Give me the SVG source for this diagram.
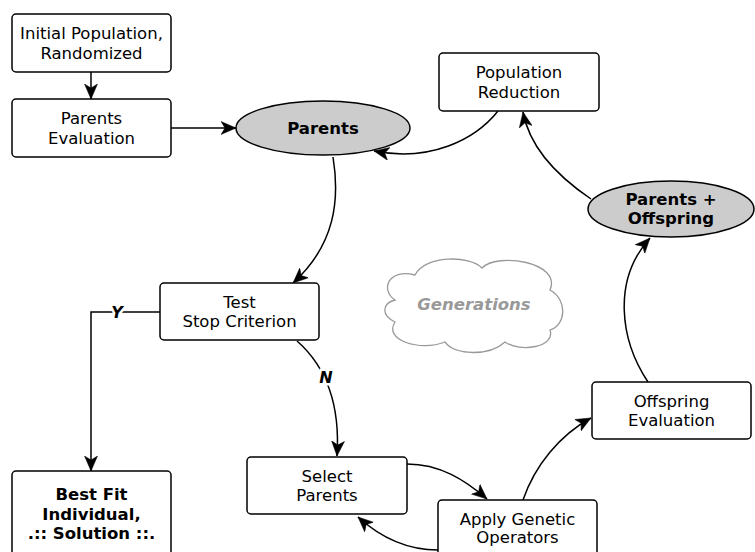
<svg xmlns="http://www.w3.org/2000/svg" width="755" height="552" viewBox="0 0 755 552">
<style>
.box{fill:#fff;stroke:#000;stroke-width:1.5}
.ell{fill:#cccccc;stroke:#000;stroke-width:1.5}
.t{font-family:"DejaVu Sans",sans-serif;font-size:16.5px;text-anchor:middle;fill:#000}
.b{font-weight:bold}
.c{fill:none;stroke:#000;stroke-width:1.5;marker-end:url(#ah)}
.lbl{font-family:"DejaVu Sans",sans-serif;font-size:16px;font-weight:bold;font-style:italic;text-anchor:middle;fill:#000;stroke:#fff;stroke-width:5;paint-order:stroke}
</style>
<defs>
<marker id="ah" markerUnits="userSpaceOnUse" markerWidth="18" markerHeight="16" refX="15" refY="7" orient="auto" viewBox="0 0 18 14">
<path d="M15,7 L0,0.5 L4,7 L0,13.5 Z" fill="#000" stroke="#000" stroke-width="0.5" stroke-linejoin="round"/>
</marker>
</defs>
<rect width="755" height="552" fill="#fff"/>
<g id="cloud">
<path d="M395,300 C380,290 388,268 415,275 C425,255 470,255 482,268 C497,252 562,262 550,290 C568,300 566,325 550,330 C556,347 520,353 505,342 C490,356 455,356 445,342 C420,352 383,340 395,322 C380,315 383,303 395,300 Z" fill="#fff" stroke="#999" stroke-width="1.3"/>
<text x="474" y="310" class="t b" style="font-style:italic;fill:#999">Generations</text>
</g>
<g id="connectors">
<path class="c" d="M91,72 L91,99"/>
<path class="c" d="M171,128 L236,128"/>
<path class="c" d="M333,157 C340,200 335,245 293,283"/>
<path class="c" d="M297,341 C330,370 340,410 337,456"/>
<path class="c" d="M160,312 L91,312 L91,471"/>
<path class="c" d="M407,464 C440,464 465,480 487,499"/>
<path class="c" d="M438,550 C405,550 380,537 358,517"/>
<path class="c" d="M523,500 C535,465 560,435 591,418"/>
<path class="c" d="M648,382 C620,340 612,280 650,238"/>
<path class="c" d="M591,199 C560,178 530,150 523,112"/>
<path class="c" d="M498,111 C475,140 430,162 374,151"/>
<text x="117" y="318" class="lbl">Y</text>
<text x="326" y="383" class="lbl">N</text>
</g>
<g id="initial">
<rect class="box" x="12" y="14" width="159" height="58" rx="4"/>
<text class="t" x="91.5" y="39">Initial Population,</text>
<text class="t" x="91.5" y="59">Randomized</text>
</g>
<g id="parents-eval">
<rect class="box" x="12" y="99" width="159" height="58" rx="4"/>
<text class="t" x="91.5" y="124">Parents</text>
<text class="t" x="91.5" y="144">Evaluation</text>
</g>
<g id="parents">
<ellipse class="ell" cx="323" cy="128" rx="87" ry="27"/>
<text class="t b" x="323" y="134">Parents</text>
</g>
<g id="pop-reduction">
<rect class="box" x="439" y="53" width="160" height="58" rx="4"/>
<text class="t" x="519" y="78">Population</text>
<text class="t" x="519" y="98">Reduction</text>
</g>
<g id="parents-offspring">
<ellipse class="ell" cx="671" cy="209" rx="83" ry="28"/>
<text class="t b" x="671" y="205">Parents +</text>
<text class="t b" x="671" y="224">Offspring</text>
</g>
<g id="test-stop">
<rect class="box" x="160" y="283" width="159" height="57" rx="4"/>
<text class="t" x="239.5" y="308">Test</text>
<text class="t" x="239.5" y="327">Stop Criterion</text>
</g>
<g id="best-fit">
<rect class="box" x="12" y="471" width="159" height="100" rx="4"/>
<text class="t b" x="91.5" y="500">Best Fit</text>
<text class="t b" x="91.5" y="520">Individual,</text>
<text class="t b" x="91.5" y="539">.:: Solution ::.</text>
</g>
<g id="select-parents">
<rect class="box" x="247" y="457" width="160" height="57" rx="4"/>
<text class="t" x="327" y="482">Select</text>
<text class="t" x="327" y="501">Parents</text>
</g>
<g id="apply-genetic">
<rect class="box" x="438" y="500" width="159" height="70" rx="4"/>
<text class="t" x="517.5" y="525">Apply Genetic</text>
<text class="t" x="517.5" y="543">Operators</text>
</g>
<g id="offspring-eval">
<rect class="box" x="592" y="382" width="159" height="57" rx="4"/>
<text class="t" x="671.5" y="407">Offspring</text>
<text class="t" x="671.5" y="426">Evaluation</text>
</g>
</svg>
